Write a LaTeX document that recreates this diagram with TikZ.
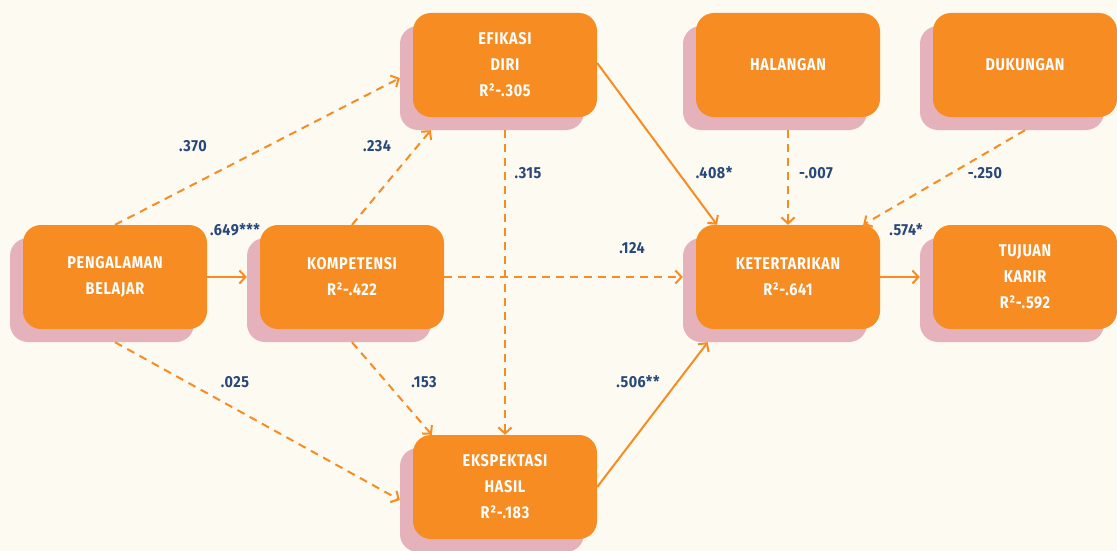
\documentclass[tikz,border=0pt]{standalone}
\usepackage{fontspec}
\usetikzlibrary{arrows.meta,calc}
\newfontfamily\boxfont[FakeStretch=0.85,LetterSpace=4]{Fira Sans}
\newfontfamily\lblfont[FakeStretch=0.9,LetterSpace=3]{Fira Sans}
\definecolor{bg}{HTML}{FDFAF2}
\definecolor{orangeA}{HTML}{F68C22}
\definecolor{pinkS}{HTML}{E5B2BB}
\definecolor{blueL}{HTML}{28487A}
\tikzset{
  front/.style={fill=orangeA, rounded corners=18pt, minimum width=184pt, minimum height=104pt,
    inner sep=0pt, text=white, align=center, font=\boxfont\bfseries\fontsize{17}{26}\selectfont},
  shade/.style={fill=pinkS, rounded corners=18pt, minimum width=184pt, minimum height=104pt, inner sep=0pt},
  solidarrow/.style={draw=orangeA, line width=2pt, -{Straight Barb[length=6pt,width=13pt]}},
  dasharrow/.style={solidarrow, dash pattern=on 8pt off 6pt},
  lbl/.style={text=blueL, inner sep=0pt, font=\lblfont\bfseries\fontsize{16}{18}\selectfont},
}
\begin{document}
\begin{tikzpicture}[x=1pt,y=-1pt]
\fill[bg] (0,0) rectangle (1117,551);
\useasboundingbox (0,0) rectangle (1117,551);
% shadows
\node[shade] (pengS) at (102,290) {};
\node[shade] (kompS) at (339,290) {};
\node[shade] (efikS) at (492,78) {};
\node[shade] (halangS) at (775,78) {};
\node[shade] (dukungS) at (1012,78) {};
\node[shade] (keterS) at (775,290) {};
\node[shade] (tujuanS) at (1012,290) {};
\node[shade] (ekspekS) at (492,500) {};
% fronts
\node[front] (peng) at (115,277) {PENGALAMAN\\BELAJAR};
\node[front] (komp) at (352,277) {KOMPETENSI\\R²-.422};
\node[front] (efik) at (505,65) {EFIKASI\\DIRI\\R²-.305};
\node[front] (halang) at (788,65) {HALANGAN};
\node[front] (dukung) at (1025,65) {DUKUNGAN};
\node[front] (keter) at (788,277) {KETERTARIKAN\\R²-.641};
\node[front] (tujuan) at (1025,277) {TUJUAN\\KARIR\\R²-.592};
\node[front] (ekspek) at (505,487) {EKSPEKTASI\\HASIL\\R²-.183};
% connectors
\draw[solidarrow] (peng.east) -- (peng.east -| kompS.west);
\draw[dasharrow] (peng.north) -- (efikS.west);
\draw[dasharrow] (komp.north) -- ([xshift=31pt]efikS.south west);
\draw[dasharrow] (efik.south |- efikS.south) -- (ekspek.north);
\draw[solidarrow] ([yshift=2pt]efik.east) -- ([xshift=-71pt]keter.north);
\draw[dasharrow] (halang.south |- halangS.south) -- (keter.north);
\draw[dasharrow] (dukung.south |- dukungS.south) -- ([xshift=-17pt]keter.north east);
\draw[dasharrow] (komp.east) -- (komp.east -| keterS.west);
\draw[solidarrow] (keter.east) -- (keter.east -| tujuanS.west);
\draw[dasharrow] (peng.south |- pengS.south) -- (ekspekS.west);
\draw[dasharrow] (komp.south |- kompS.south) -- ([xshift=19pt]ekspek.north west);
\draw[solidarrow] (ekspek.east) -- ([xshift=25pt]keterS.south west);
% labels
\node[lbl] (l370) at (193,146) {.370};
\node[lbl] (l234) at (377,146) {.234};
\node[lbl] (l315) at (528,173) {.315};
\node[lbl] (l649) at (235,230) {.649***};
\node[lbl] (l408) at (714,173) {.408*};
\node[lbl] (l007) at (816,173) {-.007};
\node[lbl] (l250) at (985,173) {-.250};
\node[lbl] (l124) at (632,248) {.124};
\node[lbl] (l574) at (906,230) {.574*};
\node[lbl] (l025) at (235,382) {.025};
\node[lbl] (l153) at (424,382) {.153};
\node[lbl] (l506) at (638,382) {.506**};
\end{tikzpicture}
\end{document}
